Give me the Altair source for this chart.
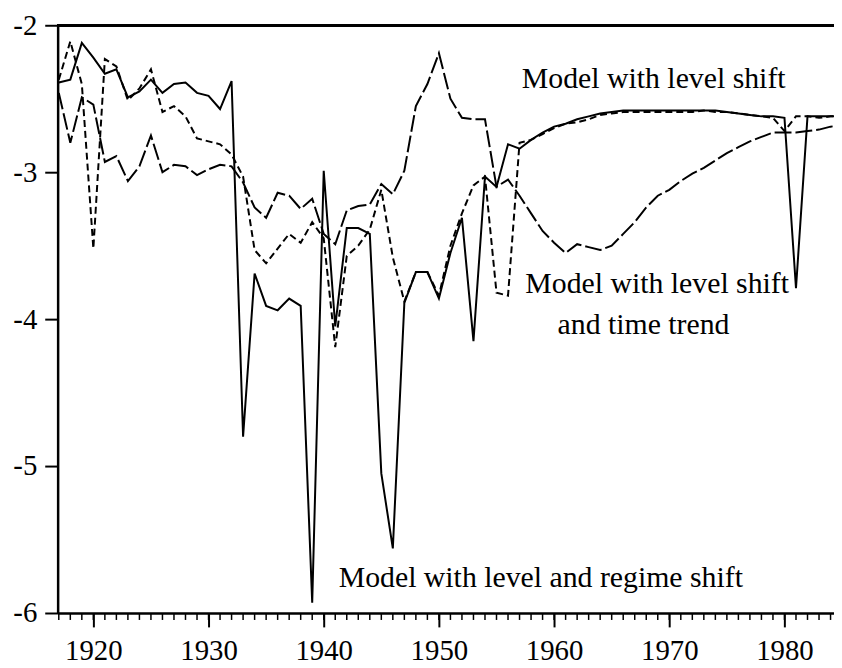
import altair as alt
import pandas as pd

years = list(range(1917, 1986))

level_regime = [-2.39, -2.37, -2.12, -2.22, -2.33, -2.30, -2.49, -2.45, -2.37, -2.46,
                -2.40, -2.39, -2.46, -2.48, -2.57, -2.38, -4.80, -3.69, -3.91, -3.94,
                -3.86, -3.91, -5.93, -2.99, -4.05, -3.38, -3.38, -3.42, -5.05, -5.56,
                -3.89, -3.68, -3.68, -3.86, -3.55, -3.31, -4.15, -3.03, -3.10, -2.81,
                -2.84, -2.78, -2.73, -2.69, -2.67, -2.64, -2.62, -2.60, -2.59, -2.58,
                -2.58, -2.58, -2.58, -2.58, -2.58, -2.58, -2.58, -2.58, -2.59, -2.60,
                -2.61, -2.62, -2.62, -2.63, -3.79, -2.62, -2.62, -2.62, -2.62]

level_shift = [-2.37, -2.11, -2.40, -3.52, -2.23, -2.28, -2.51, -2.43, -2.30, -2.59,
               -2.55, -2.62, -2.77, -2.79, -2.81, -2.88, -3.03, -3.53, -3.62, -3.52,
               -3.42, -3.48, -3.34, -3.45, -4.19, -3.57, -3.50, -3.39, -3.12, -3.58,
               -3.88, -3.68, -3.68, -3.84, -3.50, -3.28, -3.09, -3.03, -3.82, -3.84,
               -2.80, -2.78, -2.74, -2.70, -2.67, -2.66, -2.64, -2.61, -2.60, -2.59,
               -2.59, -2.59, -2.59, -2.59, -2.59, -2.59, -2.58, -2.59, -2.59, -2.60,
               -2.61, -2.62, -2.63, -2.72, -2.62, -2.62, -2.63, -2.62, -2.62]

level_trend = [-2.46, -2.80, -2.49, -2.54, -2.93, -2.89, -3.06, -2.96, -2.75, -3.00,
               -2.95, -2.96, -3.02, -2.98, -2.95, -2.96, -3.07, -3.24, -3.31, -3.14,
               -3.16, -3.25, -3.18, -3.42, -3.49, -3.26, -3.23, -3.22, -3.08, -3.15,
               -2.99, -2.55, -2.40, -2.19, -2.50, -2.63, -2.64, -2.64, -3.10, -3.05,
               -3.16, -3.28, -3.40, -3.48, -3.55, -3.49, -3.51, -3.53, -3.50, -3.42,
               -3.34, -3.24, -3.16, -3.12, -3.06, -3.01, -2.97, -2.92, -2.87, -2.83,
               -2.79, -2.76, -2.73, -2.73, -2.73, -2.72, -2.71, -2.69, -2.68]

label_texts = ["Model with level shift", "Model with level shift", "and time trend",
               "Model with level and regime shift"]
label_years = [1957.2, 1957.5, 1960.3, 1941.3]
label_values = [-2.426, -3.824, -4.10, -5.82]

major_years = [1920, 1930, 1940, 1950, 1960, 1970, 1980]
minor_years = list(range(1917, 1985))
y_ticks = [-6, -5, -4, -3, -2]

W, H = 782, 592
FONT = "Liberation Serif"
XDOM = [1916.9, 1984.3]

xscale = alt.Scale(domain=XDOM, nice=False, zero=False)
yscale = alt.Scale(domain=[-6, -2], nice=False, zero=False)

xaxis = alt.Axis(values=major_years, format="d", tickSize=14, tickWidth=2,
                 tickColor="black", domainColor="black", domainWidth=2.5,
                 labelFont=FONT, labelFontSize=29, labelColor="black",
                 labelPadding=10, grid=False, title=None, labelFlush=False)
yaxis = alt.Axis(values=y_ticks, labelExpr="'' + datum.value", tickSize=13,
                 tickWidth=2, tickColor="black", domainColor="black",
                 domainWidth=2.5, labelFont=FONT, labelFontSize=29,
                 labelColor="black", labelPadding=8, grid=False, title=None)


def series_df(vals):
    return pd.DataFrame({"year": years, "value": vals})


base_x = alt.X("year:Q", scale=xscale, axis=xaxis)
base_y = alt.Y("value:Q", scale=yscale, axis=yaxis)

solid = alt.Chart(series_df(level_regime)).mark_line(
    color="black", strokeWidth=2, clip=True).encode(x=base_x, y=base_y)
short = alt.Chart(series_df(level_shift)).mark_line(
    color="black", strokeWidth=2, strokeDash=[7, 4], clip=True).encode(
    x=alt.X("year:Q", scale=xscale), y=alt.Y("value:Q", scale=yscale))
long = alt.Chart(series_df(level_trend)).mark_line(
    color="black", strokeWidth=2, strokeDash=[17, 4], clip=True).encode(
    x=alt.X("year:Q", scale=xscale), y=alt.Y("value:Q", scale=yscale))

labels_df = pd.DataFrame({"t": label_texts, "year": label_years, "value": label_values})
labels = alt.Chart(labels_df).mark_text(
    align="left", baseline="alphabetic", font=FONT, fontSize=30, color="black").encode(
    x=alt.X("year:Q", scale=xscale), y=alt.Y("value:Q", scale=yscale), text="t:N")

minor_df = pd.DataFrame({"year": minor_years})
minor = alt.Chart(minor_df).mark_rule(color="black", strokeWidth=1.5).encode(
    x=alt.X("year:Q", scale=xscale), y=alt.value(H), y2=alt.value(H + 7))

top = alt.Chart(minor_df).mark_rule(color="black", strokeWidth=2.5).encode(
    x=alt.value(0), x2=alt.value(W), y=alt.value(0))

chart = alt.layer(long, short, solid, labels, minor, top).properties(
    width=W, height=H,
    autosize=alt.AutoSizeParams(type="none"),
    padding={"left": 50, "top": 15, "right": 0, "bottom": 52},
).configure_view(stroke=None).configure(background="white")

chart.save("out.html", embed_options={"renderer": "svg", "actions": False})
